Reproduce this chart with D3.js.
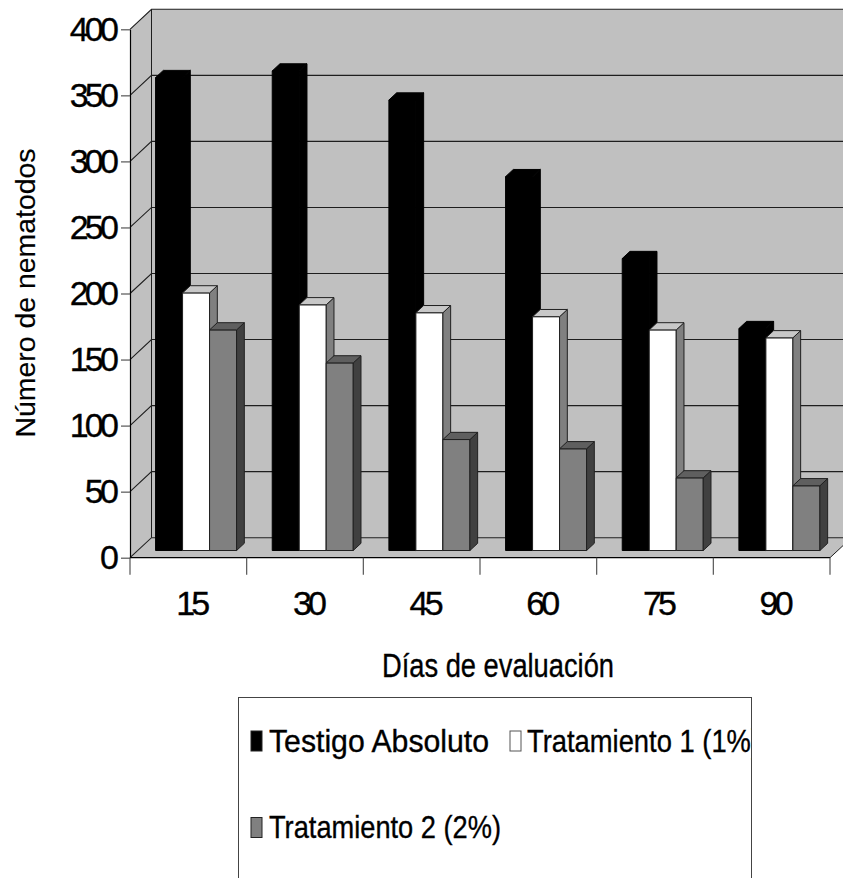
<!DOCTYPE html>
<html>
<head>
<meta charset="utf-8">
<script src="https://cdn.jsdelivr.net/npm/d3@7/dist/d3.min.js"></script>
<style>
  html, body { margin: 0; padding: 0; background: #fff; }
  svg { display: block; font-family: "Liberation Sans", Arial, sans-serif; }
  svg text { fill: #000; stroke: #000; stroke-width: 0.35px; }
</style>
</head>
<body>
<script>
// Nematode counts per evaluation day, three treatments
const days = ["15", "30", "45", "60", "75", "90"];
const seriesNames = ["Testigo Absoluto", "Tratamiento 1 (1%)", "Tratamiento 2 (2%)"];
const testigo = [358, 363, 341, 283, 221, 168];
const tratamiento1 = [195, 186, 180, 177, 167, 161];
const tratamiento2 = [167, 142, 84, 77, 55, 49];
const yTicks = [0, 50, 100, 150, 200, 250, 300, 350, 400];
const yTitle = "Número de nematodos";
const xTitle = "Días de evaluación";

const seriesValues = [testigo, tratamiento1, tratamiento2];

// face colours per series: front, top, side
const faces = [
  { front: "#000000", top: "#000000", side: "#000000", stroke: "#000000" },
  { front: "#ffffff", top: "#c8c8c8", side: "#808080", stroke: "#202020" },
  { front: "#808080", top: "#5f5f5f", side: "#404040", stroke: "#202020" }
];

const W = 843, H = 878;
const svg = d3.select("body").append("svg").attr("width", W).attr("height", H);

// plot frame (front plane) and oblique depth
const X0 = 130, X1 = 830, Y0 = 557.7, YT = 29.3;
const DX = 21.5, DY = 20;
const D0 = 0.36, D1 = 0.72; // bar depth span inside the box

const x = d3.scaleBand().domain(days).range([X0, X1]);
const xs = d3.scaleBand().domain(seriesNames).range([0, x.bandwidth()]).paddingOuter(0.66);
const y = d3.scaleLinear().domain([0, 400]).range([Y0, YT]);

const pt = (px, py, d) => [px + d * DX, py - d * DY];
const poly = pts => "M" + pts.map(p => p.join(",")).join("L") + "Z";

// walls and floor
const box = svg.append("g");
box.append("path")
  .attr("d", poly([pt(X0, YT, 1), pt(X1, YT, 1), pt(X1, Y0, 1), pt(X0, Y0, 1)]))
  .attr("fill", "#c0c0c0");
box.append("path")
  .attr("d", poly([[X0, YT], pt(X0, YT, 1), pt(X0, Y0, 1), [X0, Y0]]))
  .attr("fill", "#c0c0c0");
box.append("path")
  .attr("d", poly([[X0, Y0], [X1, Y0], pt(X1, Y0, 1), pt(X0, Y0, 1)]))
  .attr("fill", "#c0c0c0");

// gridlines across left wall and back wall
box.selectAll("path.grid").data(yTicks).join("path")
  .attr("class", "grid")
  .attr("d", v => "M" + [X0, y(v)] + "L" + pt(X0, y(v), 1) + "L" + pt(X1, y(v), 1))
  .attr("fill", "none").attr("stroke", "#1e1e1e").attr("stroke-width", 1.1);

// back wall left edge and floor right edge
box.append("line")
  .attr("x1", X0 + DX).attr("y1", YT - DY).attr("x2", X0 + DX).attr("y2", Y0 - DY)
  .attr("stroke", "#1e1e1e").attr("stroke-width", 1);
box.append("line")
  .attr("x1", X1).attr("y1", Y0).attr("x2", X1 + DX).attr("y2", Y0 - DY)
  .attr("stroke", "#1e1e1e").attr("stroke-width", 1);

// 3D columns, drawn left to right so nearer faces cover earlier sides
const bars = svg.append("g");
const bw = xs.bandwidth();
const ddx = (D1 - D0) * DX, ddy = (D1 - D0) * DY;
days.forEach((day, i) => {
  seriesNames.forEach((name, j) => {
    const v = seriesValues[j][i];
    const f = faces[j];
    const [bx, base] = pt(x(day) + xs(name), Y0, D0);
    const top = y(v) - D0 * DY;
    const g = bars.append("g")
      .attr("stroke", f.stroke).attr("stroke-width", 1).attr("stroke-linejoin", "round");
    g.append("path").attr("fill", f.front)
      .attr("d", poly([[bx, top], [bx + bw, top], [bx + bw, base], [bx, base]]));
    g.append("path").attr("fill", f.side)
      .attr("d", poly([[bx + bw, top], [bx + bw + ddx, top - ddy], [bx + bw + ddx, base - ddy], [bx + bw, base]]));
    g.append("path").attr("fill", f.top)
      .attr("d", poly([[bx, top], [bx + ddx, top - ddy], [bx + bw + ddx, top - ddy], [bx + bw, top]]));
  });
});

// value axis
const yAxis = svg.append("g")
  .attr("transform", `translate(${X0},0)`)
  .call(d3.axisLeft(y).tickValues(yTicks).tickSize(9).tickSizeOuter(0).tickPadding(6));
yAxis.select(".domain").attr("stroke", "#000").attr("stroke-width", 1.2);
yAxis.selectAll(".tick line").attr("stroke", "#555").attr("stroke-width", 1.2);
yAxis.selectAll(".tick text")
  .attr("font-size", 34).attr("letter-spacing", "-3.8px").attr("fill", "#000")
  .attr("font-family", "'Liberation Sans', Arial, sans-serif");

// category axis: baseline, boundary ticks, centred labels
svg.append("line")
  .attr("x1", X0).attr("x2", X1).attr("y1", Y0).attr("y2", Y0)
  .attr("stroke", "#000").attr("stroke-width", 1.2);
const bounds = days.map(d => x(d)).concat([x(days[days.length - 1]) + x.step()]);
svg.selectAll("line.xtick").data(bounds).join("line")
  .attr("class", "xtick")
  .attr("x1", d => d).attr("x2", d => d).attr("y1", Y0).attr("y2", Y0 + 17)
  .attr("stroke", "#555").attr("stroke-width", 1.2);
svg.selectAll("text.xlab").data(days).join("text")
  .attr("class", "xlab")
  .attr("x", d => x(d) + x.bandwidth() / 2 + 3)
  .attr("y", 615)
  .attr("text-anchor", "middle")
  .attr("font-size", 34).attr("letter-spacing", "-3.8px")
  .text(d => d);

// axis titles
svg.append("text")
  .attr("x", 498).attr("y", 677)
  .attr("text-anchor", "middle")
  .attr("font-size", 34)
  .attr("textLength", 232).attr("lengthAdjust", "spacingAndGlyphs")
  .text(xTitle);
svg.append("text")
  .attr("transform", "translate(35,293) rotate(-90)")
  .attr("text-anchor", "middle")
  .attr("font-size", 28)
  .attr("textLength", 289).attr("lengthAdjust", "spacingAndGlyphs")
  .style("stroke-width", "0.15px")
  .text(yTitle);

// legend box, contents clipped to its border
const LX = 238.5, LY = 697.5, LW = 513, LH = 220;
svg.append("defs").append("clipPath").attr("id", "legclip")
  .append("rect").attr("x", LX).attr("y", LY).attr("width", LW).attr("height", LH);
svg.append("rect")
  .attr("x", LX).attr("y", LY).attr("width", LW).attr("height", LH)
  .attr("fill", "#fff");
const legend = svg.append("g").attr("clip-path", "url(#legclip)");
const legPos = [
  { sx: 251, tx: 269, base: 751.5, len: 220 },
  { sx: 510, tx: 527, base: 751.5, len: 233 },
  { sx: 251, tx: 269, base: 838, len: 232 }
];
seriesNames.forEach((name, j) => {
  const p = legPos[j];
  legend.append("rect")
    .attr("x", p.sx).attr("y", p.base - 20.5).attr("width", 11).attr("height", 20)
    .attr("fill", faces[j].front)
    .attr("stroke", j === 1 ? "#555" : "#222").attr("stroke-width", 1);
  legend.append("text")
    .attr("x", p.tx).attr("y", p.base)
    .attr("font-size", 32)
    .attr("textLength", p.len).attr("lengthAdjust", "spacingAndGlyphs")
    .text(name);
});
svg.append("rect")
  .attr("x", LX).attr("y", LY).attr("width", LW).attr("height", LH)
  .attr("fill", "none").attr("stroke", "#444").attr("stroke-width", 1);
</script>
</body>
</html>
